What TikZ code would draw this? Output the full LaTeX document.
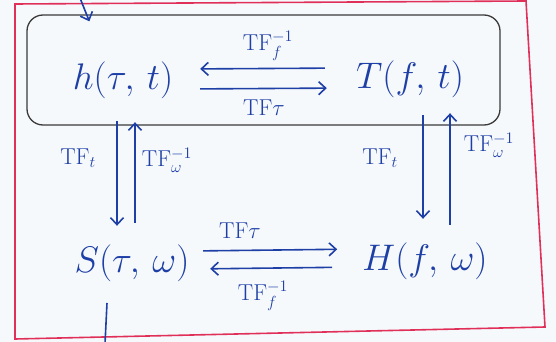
\documentclass[tikz,border=0pt]{standalone}
\usepackage{fix-cm}
\usepackage{amsmath}
\usepackage{tikz}
\usetikzlibrary{
arrows.meta,
positioning
}
\definecolor{TFInk}{HTML}{1E3FA6}
\definecolor{TFFrame}{HTML}{E0305A}
\definecolor{TFGray}{HTML}{3A3A3A}
\definecolor{TFPaper}{HTML}{F6F9FC}
\tikzset{
tfsignal/.style={text=TFInk, font=\fontsize{37}{42}\selectfont, inner sep=0pt,
  minimum width=120pt, minimum height=40pt},
tflabel/.style={text=TFInk, font=\fontsize{23}{26}\selectfont, inner sep=1pt},
tfarrow/.style={-{Straight Barb[length=7pt,width=13pt]}, line width=1.6pt, draw=TFInk},
tfline/.style={line width=1.6pt, draw=TFInk},
tfframe/.style={line width=1.6pt, draw=TFFrame},
tfdomain/.style={draw=TFGray, line width=1.3pt, rounded corners=16pt,
  minimum width=473pt, minimum height=110pt, inner sep=0pt}
}

\begin{document}
\begin{tikzpicture}[x=1pt, y=-1pt]
\fill[TFPaper] (0,0) rectangle (556,342);
\useasboundingbox (0,0) rectangle (556,342);

% outer frame
\draw[tfframe] (15,4) -- (526,1) -- (545,327) -- (15,339) -- cycle;

% time domain box
\node[tfdomain] (dom) at (263.5,70) {};
\coordinate (feed) at (80,-2);
\draw[tfarrow] (feed) -- ([shift={(63,7)}]dom.north west);

% signals
\node[tfsignal] (h) at (123,80) {$h(\tau,\,t)$};
\node[tfsignal] (T) at (410,79) {$T(f,\,t)$};
\node[tfsignal] (S) at (132,263) {$S(\tau,\,\omega)$};
\node[tfsignal] (H) at (425,261) {$H(f,\,\omega)$};

% top row
\draw[tfarrow, shorten <=25pt, shorten >=17pt] ([yshift=11pt]T.west) -- ([yshift=11pt]h.east);
\draw[tfarrow, shorten <=17pt, shorten >=23pt] ([yshift=-9pt]h.east) -- ([yshift=-9pt]T.west);
\node[tflabel] (topinv) at (268,46) {TF$^{-1}_{f}$};
\node[tflabel] (toptau) at (264,108) {TF$\tau$};

% left column
\draw[tfarrow, shorten <=21pt, shorten >=17pt] ([xshift=-6pt]h.south) -- ([xshift=-15pt]S.north);
\draw[tfarrow, shorten <=20pt, shorten >=22pt] ([xshift=3pt]S.north) -- ([xshift=12pt]h.south);
\node[tflabel] (leftt) at (78,158) {TF$_t$};
\node[tflabel] (leftinv) at (167,160) {TF$^{-1}_{\omega}$};

% right column
\draw[tfarrow, shorten <=16pt, shorten >=22pt] ([xshift=13pt]T.south) -- ([xshift=-2pt]H.north);
\draw[tfarrow, shorten <=16pt, shorten >=14pt] ([xshift=25pt]H.north) -- ([xshift=40pt]T.south);
\node[tflabel] (rightt) at (380,158) {TF$_t$};
\node[tflabel] (rightinv) at (489,145) {TF$^{-1}_{\omega}$};

% bottom row
\draw[tfarrow, shorten <=11pt, shorten >=25pt] ([yshift=12pt]S.east) -- ([yshift=12pt]H.west);
\draw[tfarrow, shorten <=30pt, shorten >=18pt] ([yshift=-6pt]H.west) -- ([yshift=-6pt]S.east);
\node[tflabel] (bottau) at (240,231) {TF$\tau$};
\node[tflabel] (botinv) at (263,296) {TF$^{-1}_{f}$};

% lead out
\coordinate (outA) at (107,303);
\coordinate (outB) at (105,344);
\draw[tfline] (outA) -- (outB);
\end{tikzpicture}
\end{document}
